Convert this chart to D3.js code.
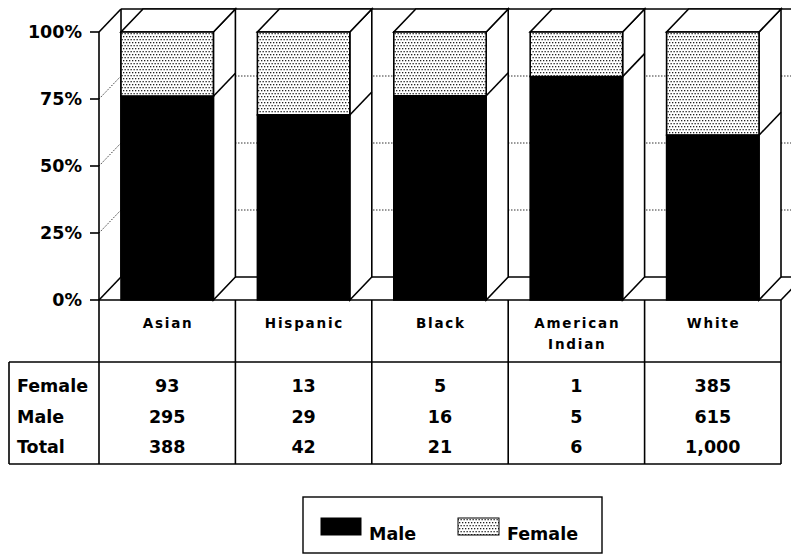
<!DOCTYPE html>
<html><head><meta charset="utf-8">
<script src="https://cdn.jsdelivr.net/npm/d3@7"></script>
<style>
body{margin:0;background:#fff;}
svg{display:block;font-family:"DejaVu Sans",sans-serif;font-weight:bold;}
</style></head><body>
<svg id="chart" width="791" height="554"></svg>
<script>
// ---- data ----
const categories = ["Asian","Hispanic","Black","American Indian","White"];
const categoryLines = [["Asian"],["Hispanic"],["Black"],["American","Indian"],["White"]];
const femaleCounts = [93,13,5,1,385];
const maleCounts = [295,29,16,5,615];
const totalCounts = [388,42,21,6,1000];
const yTicks = [0,0.25,0.5,0.75,1];
const yTickLabels = ["0%","25%","50%","75%","100%"];
const rowLabels = ["Female","Male","Total"];
const seriesNames = ["Male","Female"];

// ---- layout ----
const svg = d3.select("#chart");
const x = d3.scaleBand().domain(categories).range([99, 781]).paddingInner(0).paddingOuter(0);
const y = d3.scaleLinear().domain([0,1]).range([300, 32]);
const DX = 22, DY = -23, INSET = 22;
const black = "#000";
const fmt = d3.format(",");

const defs = svg.append("defs");
const pat = defs.append("pattern").attr("id","dots").attr("patternUnits","userSpaceOnUse")
  .attr("width",3).attr("height",6);
pat.append("rect").attr("width",3).attr("height",6).attr("fill","#fff");
pat.append("rect").attr("x",0).attr("y",0).attr("width",1.3).attr("height",1.3).attr("fill","#222");
pat.append("rect").attr("x",1.5).attr("y",3).attr("width",1.3).attr("height",1.3).attr("fill","#222");

const xL = x.range()[0], xR = x.range()[1];
const gGrid = svg.append("g");
yTicks.filter(t => t > 0 && t < 1).forEach(t => {
  gGrid.append("line").attr("x1", xL + DX).attr("x2", xR + DX)
    .attr("y1", y(t) + DY).attr("y2", y(t) + DY)
    .attr("stroke","#333").attr("stroke-width",1).attr("stroke-dasharray","1.5,1.5");
  gGrid.append("line").attr("x1", xL).attr("x2", xL + DX)
    .attr("y1", y(t)).attr("y2", y(t) + DY)
    .attr("stroke","#333").attr("stroke-width",1).attr("stroke-dasharray","1.5,1.5");
});

const gFrame = svg.append("g").attr("stroke", black).attr("stroke-width",1.6).attr("fill","none");
gFrame.append("line").attr("x1",xL).attr("x2",xL).attr("y1",y(1)).attr("y2",y(0));
gFrame.append("line").attr("x1",xL+DX).attr("x2",xL+DX).attr("y1",y(1)+DY).attr("y2",y(0)+DY);
gFrame.append("line").attr("x1",xL).attr("x2",xL+DX).attr("y1",y(1)).attr("y2",y(1)+DY);
gFrame.append("line").attr("x1",xL).attr("x2",xL+DX).attr("y1",y(0)).attr("y2",y(0)+DY);
gFrame.append("line").attr("x1",xL+DX).attr("x2",xR+DX).attr("y1",y(1)+DY).attr("y2",y(1)+DY);
gFrame.append("line").attr("x1",xL+DX).attr("x2",xR+DX).attr("y1",y(0)+DY).attr("y2",y(0)+DY);
gFrame.append("line").attr("x1",xL).attr("x2",xR).attr("y1",y(0)).attr("y2",y(0));
gFrame.append("line").attr("x1",xR).attr("x2",xR+DX).attr("y1",y(0)).attr("y2",y(0)+DY);
gFrame.append("line").attr("x1",xR+DX).attr("x2",xR+DX).attr("y1",y(1)+DY).attr("y2",y(0)+DY);

const gBars = svg.append("g");
categories.forEach((c, i) => {
  const frac = maleCounts[i] / totalCounts[i];
  const x0 = x(c) + INSET, x1 = x(c) + x.bandwidth() - INSET;
  const g = gBars.append("g").attr("stroke", black).attr("stroke-width",1.6).attr("stroke-linejoin","miter");
  g.append("path").attr("fill","#fff")
    .attr("d", d3.line()([[x1,y(1)],[x1+DX,y(1)+DY],[x1+DX,y(0)+DY],[x1,y(0)]]) + "Z");
  g.append("line").attr("x1",x1).attr("x2",x1+DX).attr("y1",y(frac)).attr("y2",y(frac)+DY);
  g.append("path").attr("fill","#fff")
    .attr("d", d3.line()([[x0,y(1)],[x1,y(1)],[x1+DX,y(1)+DY],[x0+DX,y(1)+DY]]) + "Z");
  g.append("rect").attr("x",x0).attr("width",x1-x0).attr("y",y(1)).attr("height",y(frac)-y(1))
    .attr("fill","url(#dots)");
  g.append("rect").attr("x",x0).attr("width",x1-x0).attr("y",y(frac)).attr("height",y(0)-y(frac))
    .attr("fill",black);
});

const gAxis = svg.append("g");
yTicks.forEach((t, i) => {
  gAxis.append("line").attr("x1",xL-9).attr("x2",xL).attr("y1",y(t)).attr("y2",y(t))
    .attr("stroke",black).attr("stroke-width",1.6);
  gAxis.append("text").attr("x",82).attr("y",y(t)).attr("dy","0.36em")
    .attr("text-anchor","end").attr("font-size",17.5).text(yTickLabels[i]);
});

const headerTop = y(0), headerBottom = 362, tableLeft = 9, tableBottom = 464;
const rowBaselines = [392, 423, 453];
const gTable = svg.append("g").attr("stroke",black).attr("stroke-width",1.6);
const bounds = categories.map(c => x(c)).concat([xR]);
bounds.forEach(b => {
  gTable.append("line").attr("x1",b).attr("x2",b).attr("y1",headerTop).attr("y2",tableBottom);
});
gTable.append("line").attr("x1",tableLeft).attr("x2",xR).attr("y1",headerBottom).attr("y2",headerBottom);
gTable.append("line").attr("x1",tableLeft).attr("x2",xR).attr("y1",tableBottom).attr("y2",tableBottom);
gTable.append("line").attr("x1",tableLeft).attr("x2",tableLeft).attr("y1",headerBottom).attr("y2",tableBottom);

const gText = svg.append("g");
categories.forEach((c, i) => {
  const cx = x(c) + x.bandwidth()/2;
  const t = gText.append("text").attr("text-anchor","middle").attr("font-size",13.5)
    .attr("letter-spacing","1.8px");
  categoryLines[i].forEach((ln, j) => {
    t.append("tspan").attr("x", cx + 0.9).attr("y", 328 + j*21).text(ln);
  });
  const vals = [femaleCounts[i], maleCounts[i], totalCounts[i]];
  vals.forEach((v, r) => {
    gText.append("text").attr("x",cx).attr("y",rowBaselines[r]).attr("text-anchor","middle")
      .attr("font-size",17.5).text(fmt(v));
  });
});
rowLabels.forEach((lab, r) => {
  gText.append("text").attr("x",17).attr("y",rowBaselines[r]).attr("font-size",17.5).text(lab);
});

const gLeg = svg.append("g");
gLeg.append("rect").attr("x",303).attr("y",497).attr("width",299).attr("height",56)
  .attr("fill","none").attr("stroke",black).attr("stroke-width",1.4);
const legItems = [
  {name: seriesNames[0], fill: black, sx: 321, sw: 40, tx: 369},
  {name: seriesNames[1], fill: "url(#dots)", sx: 458, sw: 41, tx: 507}
];
legItems.forEach(it => {
  gLeg.append("rect").attr("x",it.sx).attr("y",518).attr("width",it.sw).attr("height",17)
    .attr("fill",it.fill).attr("stroke",black).attr("stroke-width",1);
  gLeg.append("text").attr("x",it.tx).attr("y",540).attr("font-size",17.5).text(it.name);
});
</script>
</body></html>
